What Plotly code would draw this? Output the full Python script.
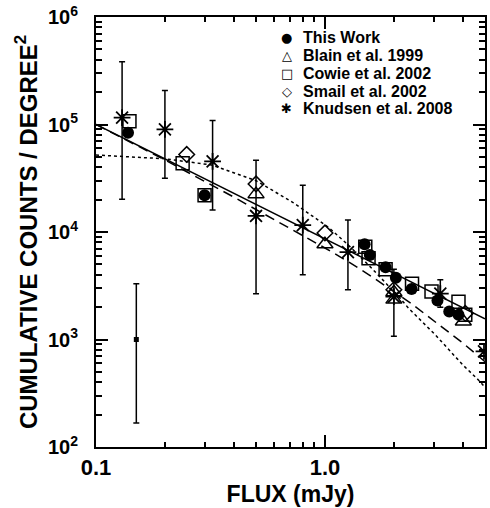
import numpy as np
import plotly.graph_objects as go

# ---------------- data ----------------
this_work_x = [0.138, 0.298, 1.49, 1.57, 1.84, 2.04, 2.39, 3.10, 3.49, 3.83]
this_work_y = [8.4e4, 2.2e4, 7.7e3, 6.1e3, 4.7e3, 3.75e3, 2.95e3, 2.3e3, 1.82e3, 1.70e3]

blain_x = [0.5, 1.0, 2.0, 2.0, 4.02]
blain_y = [2.25e4, 7.7e3, 2.75e3, 2.35e3, 1.47e3]

cowie_x = [0.14, 0.239, 0.298, 1.50, 1.55, 1.84, 2.40, 2.92, 3.83, 4.10]
cowie_y = [1.07e5, 4.35e4, 2.2e4, 7.3e3, 5.7e3, 4.5e3, 3.3e3, 2.8e3, 2.25e3, 1.7e3]

smail_x = [0.249, 0.5, 1.0, 2.0, 4.1]
smail_y = [5.27e4, 2.8e4, 9.8e3, 2.9e3, 1.75e3]

knudsen_x = [0.13, 0.2, 0.323, 0.5, 0.8, 1.26, 2.0, 3.19, 4.95]
knudsen_y = [1.16e5, 9.0e4, 4.54e4, 1.41e4, 1.16e4, 6.5e3, 2.5e3, 2.67e3, 775]
knudsen_hi = [3.83e5, 2.07e5, 1.09e5, 4.64e4, 2.72e4, 1.29e4, 4.5e3, 3.6e3, 775]
knudsen_lo = [2.02e4, 3.16e4, 1.6e4, 2.67e3, 4.0e3, 2.9e3, 1.07e3, 2.0e3, 775]

limit_x = [0.15]
limit_y = [1.0e3]
limit_hi = [3.3e3]
limit_lo = [1.67e2]

# model curves
solid_x = [0.1, 1.0, 5.0]
solid_y = [1.0e5, 8.6e3, 1.56e3]

dashed_x = [0.1, 0.2, 0.4, 0.631, 1.0, 1.27, 1.6, 2.37, 3.0, 4.0, 5.0]
dashed_y = [1.0e5, 4.68e4, 2.11e4, 1.23e4, 7.1e3, 5.27e3, 3.85e3, 2.18e3, 1.48e3, 927, 622]

dotted_x = [0.1, 0.2, 0.32, 0.5, 0.72, 1.04, 1.27, 1.6, 2.1, 2.32, 3.04, 4.0, 4.68, 5.0]
dotted_y = [5.2e4, 4.8e4, 4.2e4, 3.0e4, 1.9e4, 1.1e4, 7.5e3, 4.6e3, 2.5e3, 1.95e3, 1.1e3, 580, 420, 360]

legend_labels = ["This Work", "Blain et al. 1999", "Cowie et al. 2002",
                 "Smail et al. 2002", "Knudsen et al. 2008"]
legend_symbols = ["\u25CF", "\u25B3", "\u25A1", "\u25C7", "\u2731"]

x_tickvals = [0.1, 1.0]
x_ticktext = ["0.1", "1.0"]
y_tickvals = [1e2, 1e3, 1e4, 1e5, 1e6]
y_ticktext = ["10<sup>2</sup>", "10<sup>3</sup>", "10<sup>4</sup>", "10<sup>5</sup>", "10<sup>6</sup>"]

# ---------------- figure ----------------
FONT = "Liberation Sans"
fig = go.Figure()

line_w = 1.5
fig.add_trace(go.Scatter(x=dotted_x, y=dotted_y, mode="lines",
                         line=dict(color="black", width=line_w, dash="dot"), showlegend=False))
fig.add_trace(go.Scatter(x=dashed_x, y=dashed_y, mode="lines",
                         line=dict(color="black", width=line_w, dash="10px,6px"), showlegend=False))
fig.add_trace(go.Scatter(x=solid_x, y=solid_y, mode="lines",
                         line=dict(color="black", width=line_w), showlegend=False))

fig.add_trace(go.Scatter(x=cowie_x, y=cowie_y, mode="markers", name=legend_labels[2],
                         marker=dict(symbol="square-open", size=13, color="black",
                                     line=dict(color="black", width=1.5)), showlegend=False))
fig.add_trace(go.Scatter(x=blain_x, y=blain_y, mode="markers", name=legend_labels[1],
                         marker=dict(symbol="triangle-up-open", size=14, color="black",
                                     line=dict(color="black", width=1.5)), showlegend=False))
fig.add_trace(go.Scatter(x=smail_x, y=smail_y, mode="markers", name=legend_labels[3],
                         marker=dict(symbol="diamond-open", size=12, color="black",
                                     line=dict(color="black", width=1.5)), showlegend=False))

kn_plus = [h - v for h, v in zip(knudsen_hi, knudsen_y)]
kn_minus = [v - l for v, l in zip(knudsen_y, knudsen_lo)]
fig.add_trace(go.Scatter(x=knudsen_x, y=knudsen_y, mode="markers", name=legend_labels[4],
                         marker=dict(symbol="asterisk-open", size=14, color="black",
                                     line=dict(color="black", width=1.8)),
                         error_y=dict(type="data", symmetric=False, array=kn_plus,
                                      arrayminus=kn_minus, color="black", thickness=1.5, width=3),
                         showlegend=False))

fig.add_trace(go.Scatter(x=this_work_x, y=this_work_y, mode="markers", name=legend_labels[0],
                         marker=dict(symbol="circle", size=12, color="black"), showlegend=False))

lim_plus = [h - v for h, v in zip(limit_hi, limit_y)]
lim_minus = [v - l for v, l in zip(limit_y, limit_lo)]
fig.add_trace(go.Scatter(x=limit_x, y=limit_y, mode="markers",
                         marker=dict(symbol="square", size=5, color="black"),
                         error_y=dict(type="data", symmetric=False, array=lim_plus,
                                      arrayminus=lim_minus, color="black", thickness=1.5, width=3),
                         showlegend=False))

# legend as text annotations
leg_y0, leg_dy = 0.952, 0.0414
for i, (sym, lab) in enumerate(zip(legend_symbols, legend_labels)):
    yy = leg_y0 - i * leg_dy
    fig.add_annotation(x=0.491, y=yy, xref="paper", yref="paper", text=sym,
                       showarrow=False, xanchor="center", yanchor="middle",
                       font=dict(family="DejaVu Sans", size=13, color="black"))
    fig.add_annotation(x=0.527, y=yy, xref="paper", yref="paper", text=lab,
                       showarrow=False, xanchor="left", yanchor="middle",
                       font=dict(family=FONT, size=16, color="black", weight="bold"))

x_minor = [0.2, 0.3, 0.4, 0.5, 0.6, 0.7, 0.8, 0.9, 2, 3, 4]
y_minor = [m * 10 ** d for d in range(2, 6) for m in range(2, 10)]

fig.update_xaxes(type="log", range=[-1, np.log10(5.0)],
                 tickmode="array", tickvals=x_tickvals, ticktext=x_ticktext,
                 ticks="inside", ticklen=12, tickwidth=1.5, tickcolor="black",
                 minor=dict(tickmode="array", tickvals=x_minor, ticks="inside",
                            ticklen=5, tickwidth=1.5, tickcolor="black", showgrid=False),
                 showline=True, linewidth=2, linecolor="black", mirror="allticks",
                 showgrid=False, zeroline=False, ticklabeloverflow="allow",
                 tickfont=dict(family=FONT, size=22, color="black", weight="bold"),
                 ticklabelstandoff=0,
                 title=dict(text="FLUX (mJy)", standoff=6,
                            font=dict(family=FONT, size=23, color="black", weight="bold")))
fig.update_yaxes(type="log", range=[2, 6],
                 tickmode="array", tickvals=y_tickvals, ticktext=y_ticktext,
                 ticks="inside", ticklen=12, tickwidth=1.5, tickcolor="black",
                 minor=dict(tickmode="array", tickvals=y_minor, ticks="inside",
                            ticklen=6, tickwidth=1.5, tickcolor="black", showgrid=False),
                 showline=True, linewidth=2, linecolor="black", mirror="allticks",
                 showgrid=False, zeroline=False, ticklabeloverflow="allow",
                 tickfont=dict(family=FONT, size=20, color="black", weight="bold"),
                 ticklabelstandoff=12,
                 title=dict(text="CUMULATIVE COUNTS / DEGREE<sup>2</sup>", standoff=4,
                            font=dict(family=FONT, size=24, color="black", weight="bold")))

fig.update_layout(width=490, height=508, margin=dict(l=96, r=3, t=12, b=61),
                  paper_bgcolor="white", plot_bgcolor="white", showlegend=False)

fig.write_html("out.html")
